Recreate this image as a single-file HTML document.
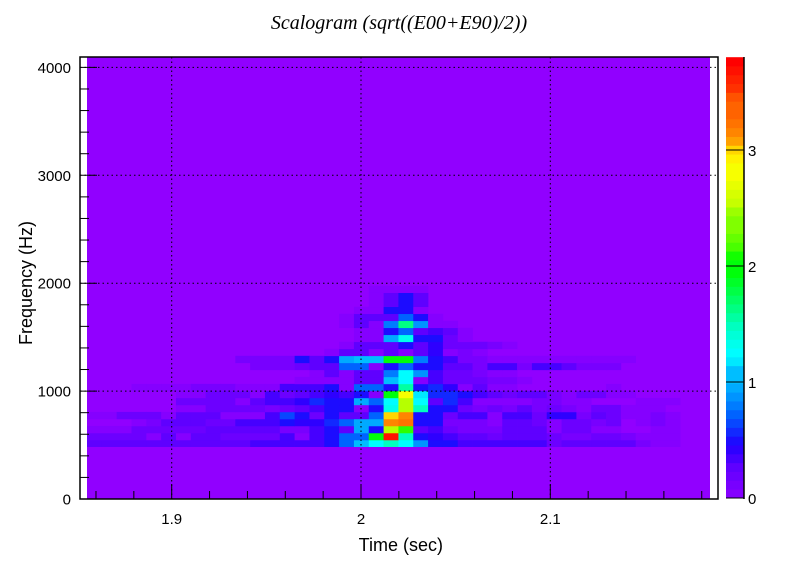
<!DOCTYPE html>
<html><head><meta charset="utf-8"><style>
body{margin:0;background:#fff;}
svg text{font-family:"Liberation Sans",sans-serif;}
</style></head><body>
<svg id="chart" width="798" height="574" xmlns="http://www.w3.org/2000/svg">
<rect width="798" height="574" fill="#fff"/>
<text x="399" y="29" text-anchor="middle" style="font-family:'Liberation Serif',serif;font-style:italic;font-size:20px">Scalogram (sqrt((E00+E90)/2))</text>
<g id="cells"></g>
<g id="grid"></g>
<rect x="80" y="57" width="638" height="442" fill="none" stroke="#000" stroke-width="1.5"/>
<g id="axes"></g>
<g id="cbar"></g>
<text x="443" y="551" text-anchor="end" font-size="18">Time (sec)</text>
<text transform="translate(32,345) rotate(-90)" text-anchor="start" font-size="18">Frequency (Hz)</text>
</svg>
<script>
const xTicks=[1.9,2.0,2.1];
const xTickLabels=["1.9","2","2.1"];
const yTicks=[0,1000,2000,3000,4000];
const yTickLabels=["0","1000","2000","3000","4000"];
const zTicks=[0,1,2,3];
const zTickLabels=["0","1","2","3"];
const t0=1.85526, dt=0.007834, f0=482, df=65;
const r0=[.3,.3,.3,.3,.3,.3,.3,.3,.3,.3,.3,.4,.4,.4,.4,.4,.5,.75,1.1,1.3,1.5,1.3,.9,.5,.5,.4,.35,.35,.35,.35,.35,.2,.3,.3,.3,.3,.3,.15,.1,.1,0,0];
const r1=[.2,.2,.2,.2,.1,.3,.1,.3,.3,.25,.25,.25,.25,.35,.1,.35,.5,.75,.75,2.0,3.7,1.5,.5,.45,.35,.3,.3,.2,.3,.3,.3,.2,.15,.15,.2,.2,.15,.1,.1,.1,0,0];
const r2=[.05,.05,.05,.25,.25,.25,.25,.25,.3,.3,.3,.3,.3,.15,.15,.35,.5,.3,.95,.5,2.5,2.1,.3,.4,.25,.15,.15,.15,.3,.3,.3,.05,.2,.2,.1,.1,0,0,.1,.1,0,0];
const r3=[0,0,0,.1,.15,.3,.3,.3,.2,.2,.35,.35,.4,.5,.45,.45,.6,.75,.95,.95,3.2,3.25,.5,.5,.15,.15,.15,.05,.3,.3,.25,.1,.2,.2,.15,.2,0,.1,.15,.1,0,0];
const r4=[.05,.05,.25,.25,.25,.1,.3,.3,.3,.1,.1,.1,.4,.65,.55,.2,.5,.3,.3,.75,3.0,3.2,.5,.55,.2,.35,.35,.1,.35,.35,.2,.45,.45,.15,.3,.2,.1,.1,.15,.1,0,0];
const r5=[0,0,0,0,0,0,.1,.1,.2,.2,.2,.2,.15,.2,.3,.4,.5,.5,.1,.5,1.35,2.5,1.5,.55,.5,.2,.15,.2,.15,.3,.15,.2,.15,.1,.2,.2,.05,.1,.05,0,0,0];
const r6=[0,0,0,0,0,0,.2,.2,.2,.25,.1,.3,.35,.35,.45,.6,.5,.5,.95,.75,1.3,2.5,1.3,.3,.6,.4,.05,.05,.1,.05,.15,.15,.1,.05,0,0,0,.05,.1,.1,0,0];
const r7=[0,0,0,0,0,0,.05,.1,.2,.25,.2,.1,.4,.2,.3,.35,.45,.35,.5,.1,2.0,2.8,1.2,.6,.6,.55,.35,.3,.2,.3,.3,.15,.05,.2,.2,.05,.05,0,0,0,0,0];
const r8=[0,0,0,.1,.1,.1,.1,.15,.15,.15,.05,.1,.1,.4,.4,.4,.5,.1,.75,.75,.5,1.6,.5,.6,.45,.1,.3,.1,.1,0,0,0,0,0,0,.05,0,0,0,0,0,0];
const r9=[0,0,0,0,0,0,0,0,0,0,0,0,0,0,.05,.05,.1,.1,.3,.3,1.1,1.3,.1,.35,.25,.25,.25,.15,.15,.1,0,0,0,0,0,0,0,0,0,0,0,0];
const r10=[0,0,0,0,0,0,0,0,0,0,0,0,0,0,0,.05,.3,.1,.3,.3,.8,1.3,.9,.4,.2,.25,.15,.1,.05,0,0,0,0,0,0,0,0,0,0,0,0,0];
const r11=[0,0,0,0,0,0,0,0,0,0,0,.15,.15,.15,.25,.3,.3,.75,.75,.1,.5,.75,.5,.5,.3,.3,.15,.4,.4,.15,.35,.35,.3,.15,.15,.15,0,0,0,0,0,0];
const r12=[0,0,0,0,0,0,0,0,0,0,.15,.15,.15,.15,.5,.3,.5,.95,1.1,1.1,2.0,2.0,.85,.55,.4,.15,.15,.1,.05,.1,.1,.1,.1,.1,.1,.1,.1,0,0,0,0,0];
const r13=[0,0,0,0,0,0,0,0,0,0,0,0,0,0,0,0,.1,.3,.3,.1,.3,.1,.3,.45,.1,.15,.05,0,0,0,0,0,0,0,0,0,0,0,0,0,0,0];
const r14=[0,0,0,0,0,0,0,0,0,0,0,0,0,0,0,0,0,.1,.3,.3,.3,.5,.3,.45,.25,.2,.2,.15,.1,0,0,0,0,0,0,0,0,0,0,0,0,0];
const r15=[0,0,0,0,0,0,0,0,0,0,0,0,0,0,0,0,0,0,.1,.1,1.0,1.4,.5,.5,.25,.1,0,0,0,0,0,0,0,0,0,0,0,0,0,0,0,0];
const r16=[0,0,0,0,0,0,0,0,0,0,0,0,0,0,0,0,0,0,.1,.1,.5,.75,.3,.4,.3,.1,0,0,0,0,0,0,0,0,0,0,0,0,0,0,0,0];
const r17=[0,0,0,0,0,0,0,0,0,0,0,0,0,0,0,0,0,.1,.3,.1,.85,1.7,.9,.1,.1,0,0,0,0,0,0,0,0,0,0,0,0,0,0,0,0,0];
const r18=[0,0,0,0,0,0,0,0,0,0,0,0,0,0,0,0,0,.1,.3,.3,.3,.75,.5,.1,0,0,0,0,0,0,0,0,0,0,0,0,0,0,0,0,0,0];
const r19=[0,0,0,0,0,0,0,0,0,0,0,0,0,0,0,0,0,0,.05,.1,.5,.5,.1,0,0,0,0,0,0,0,0,0,0,0,0,0,0,0,0,0,0,0];
const r20=[0,0,0,0,0,0,0,0,0,0,0,0,0,0,0,0,0,0,0,.1,.3,.5,.3,0,0,0,0,0,0,0,0,0,0,0,0,0,0,0,0,0,0,0];
const r21=[0,0,0,0,0,0,0,0,0,0,0,0,0,0,0,0,0,0,0,.1,.3,.5,.3,0,0,0,0,0,0,0,0,0,0,0,0,0,0,0,0,0,0,0];
const r22=[0,0,0,0,0,0,0,0,0,0,0,0,0,0,0,0,0,0,0,.05,.1,.1,.05,0,0,0,0,0,0,0,0,0,0,0,0,0,0,0,0,0,0,0];
const rows=[r0,r1,r2,r3,r4,r5,r6,r7,r8,r9,r10,r11,r12,r13,r14,r15,r16,r17,r18,r19,r20,r21,r22];

const NS="http://www.w3.org/2000/svg";
const X=t=>361+(t-2)*1893;
const Y=f=>499-f*0.1079;
const zMax=3.8;
const Z=v=>498-v*116;
const stops=[[0,145,0,255],[.3,96,0,255],[.5,32,0,255],[.75,0,96,255],[.95,0,160,255],[1.1,0,200,255],[1.3,0,255,255],[1.5,0,255,200],[2,0,255,0],[2.5,180,255,0],[2.85,255,255,0],[3.2,255,130,0],[3.8,255,0,0]];
function color(v){
  v=Math.max(0,Math.min(zMax,Math.round(v/zMax*50)/50*zMax));
  for(let i=1;i<stops.length;i++){
    if(v<=stops[i][0]){const a=stops[i-1],b=stops[i];const k=(v-a[0])/(b[0]-a[0]);
      return `rgb(${Math.round(a[1]+k*(b[1]-a[1]))},${Math.round(a[2]+k*(b[2]-a[2]))},${Math.round(a[3]+k*(b[3]-a[3]))})`;}
  }
  return "rgb(255,0,0)";
}
function mk(tag,attrs,parent){const e=document.createElementNS(NS,tag);for(const k in attrs)e.setAttribute(k,attrs[k]);parent.appendChild(e);return e;}
const cells=document.getElementById('cells');
const bg=mk('rect',{x:87,y:57,width:623,height:442,fill:color(0)},cells);


rows.forEach((row,ri)=>{row.forEach((v,ci)=>{
  if(v<=0)return;
  const x1=X(t0+ci*dt),x2=X(t0+(ci+1)*dt),y1=Y(f0+(ri+1)*df),y2=Y(f0+ri*df);
  const r=mk('rect',{x:x1.toFixed(2),y:y1.toFixed(2),width:(x2-x1+0.3).toFixed(2),height:(y2-y1+0.3).toFixed(2),fill:color(v)},cells);
  
  
});});
const zero=mk('rect',{x:87,y:Y(f0).toFixed(2),width:623,height:(499-Y(f0)).toFixed(2),fill:color(0)},cells);


const grid=document.getElementById('grid');
xTicks.forEach(t=>{const l=mk('line',{x1:X(t),x2:X(t),y1:57,y2:499,stroke:'#000','stroke-dasharray':'1.5,3','stroke-width':1},grid);
  
  });
yTicks.forEach(f=>{if(f===0)return;const l=mk('line',{x1:80,x2:718,y1:Y(f),y2:Y(f),stroke:'#000','stroke-dasharray':'1.5,3','stroke-width':1},grid);
  
  });
const axes=document.getElementById('axes');
for(let t=1.86;t<2.185;t+=0.02){const maj=xTicks.some(m=>Math.abs(m-t)<1e-6);
  const l=mk('line',{x1:X(t),x2:X(t),y1:499,y2:499-(maj?15:8),stroke:'#000','stroke-width':1},axes);
  
  }
xTicks.forEach((t,i)=>{const e=mk('text',{x:X(t),y:524,'text-anchor':'middle','font-size':15},axes);e.textContent=xTickLabels[i];
  
  });
for(let f=0;f<=4000;f+=200){const maj=f%1000===0;
  const l=mk('line',{x1:80,x2:80+(maj?17:9),y1:Y(f),y2:Y(f),stroke:'#000','stroke-width':1},axes);
  
  }
yTicks.forEach((f,i)=>{const e=mk('text',{x:71,y:Y(f)+5.5,'text-anchor':'end','font-size':15},axes);e.textContent=yTickLabels[i];
  
  });
const cb=document.getElementById('cbar');
for(let i=0;i<50;i++){const v1=i/50*zMax,v2=(i+1)/50*zMax;
  const r=mk('rect',{x:726,y:Z(v2).toFixed(2),width:18,height:(Z(v1)-Z(v2)+0.4).toFixed(2),fill:color((i+0.5)/50*zMax)},cb);
  
  }
const ax=mk('line',{x1:744,x2:744,y1:57,y2:499,stroke:'#000','stroke-width':1.5},cb);


zTicks.forEach((v,i)=>{
  const l=mk('line',{x1:726,x2:744,y1:Z(v),y2:Z(v),stroke:'#000','stroke-width':1},cb);
  
  
  const e=mk('text',{x:748,y:Z(v)+6,'font-size':15},cb);e.textContent=zTickLabels[i];
  
  });
</script>
</body></html>
